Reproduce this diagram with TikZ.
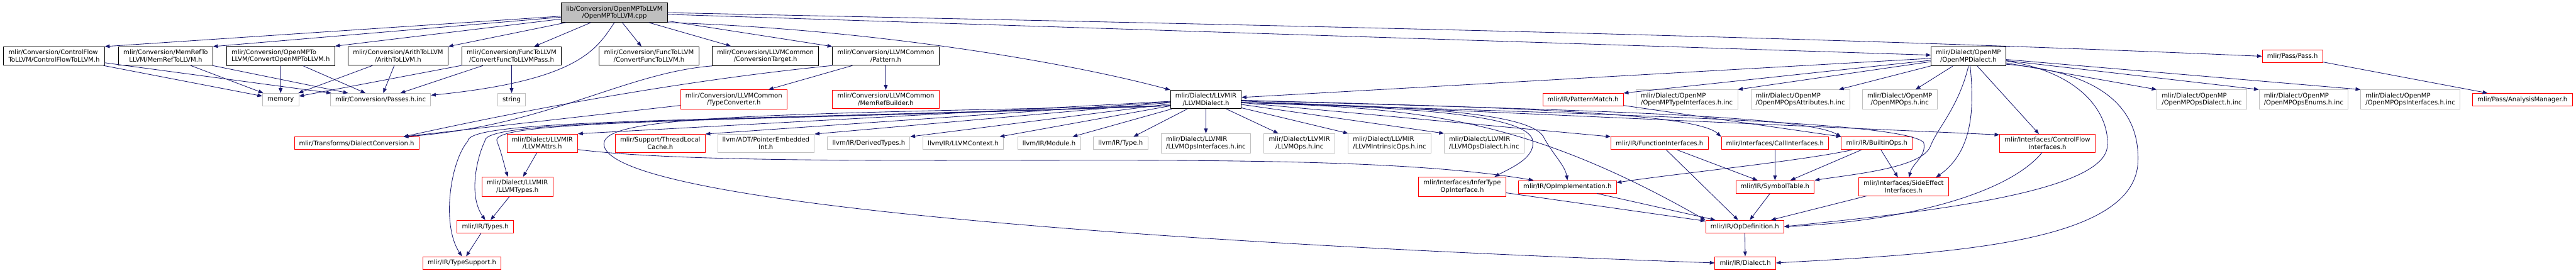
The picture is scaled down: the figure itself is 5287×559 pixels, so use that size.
\documentclass[tikz,border=0pt]{standalone}
\usepackage{fontspec}
\setmainfont{DejaVu Sans}
\usetikzlibrary{arrows.meta}
\definecolor{edgeblue}{RGB}{25,25,112}
\definecolor{grey75}{RGB}{191,191,191}
\begin{document}
\begin{tikzpicture}[x=1bp, y=-1bp,
	hdr/.style={draw=black, line width=1bp, fill=white, align=center, inner xsep=10bp, inner ysep=6bp, minimum height=26bp, font=\fontsize{13bp}{15bp}\selectfont},
	redhdr/.style={hdr, draw=red},
	syshdr/.style={hdr, draw=grey75},
	roothdr/.style={hdr, fill=grey75},
	leftlbl/.style={align=left},
	dep/.style={-{Triangle[length=10bp, width=7.5bp]}, draw=edgeblue, line width=1.1bp}]
	\useasboundingbox (0,0) rectangle (5287,559);

	\node[roothdr] (root) at (1261,26) {lib/Conversion/OpenMPToLLVM\\/OpenMPToLLVM.cpp};

	\node[hdr, leftlbl] (cf) at (111,115) {mlir/Conversion/ControlFlow\\ToLLVM/ControlFlowToLLVM.h};
	\node[hdr] (memref) at (340,115) {mlir/Conversion/MemRefTo\\LLVM/MemRefToLLVM.h};
	\node[hdr, leftlbl] (omptollvm) at (576,115) {mlir/Conversion/OpenMPTo\\LLVM/ConvertOpenMPToLLVM.h};
	\node[hdr] (arith) at (817,115) {mlir/Conversion/ArithToLLVM\\/ArithToLLVM.h};
	\node[hdr] (funcpass) at (1050,115) {mlir/Conversion/FuncToLLVM\\/ConvertFuncToLLVMPass.h};
	\node[hdr] (func) at (1332,115) {mlir/Conversion/FuncToLLVM\\/ConvertFuncToLLVM.h};
	\node[hdr] (convtarget) at (1571,115) {mlir/Conversion/LLVMCommon\\/ConversionTarget.h};
	\node[hdr] (pattern) at (1818,115) {mlir/Conversion/LLVMCommon\\/Pattern.h};
	\node[hdr] (ompdialect) at (4040,115.5) {mlir/Dialect/OpenMP\\/OpenMPDialect.h};
	\node[redhdr] (pass) at (4705,115.5) {mlir/Pass/Pass.h};

	\node[syshdr] (memory) at (576,204.5) {memory};
	\node[syshdr] (passesinc) at (781,204.5) {mlir/Conversion/Passes.h.inc};
	\node[syshdr] (string) at (1050,204.5) {string};
	\node[redhdr] (typeconv) at (1506,204) {mlir/Conversion/LLVMCommon\\/TypeConverter.h};
	\node[redhdr] (memrefbuilder) at (1818,204) {mlir/Conversion/LLVMCommon\\/MemRefBuilder.h};
	\node[hdr] (llvmdialect) at (2475,204) {mlir/Dialect/LLVMIR\\/LLVMDialect.h};
	\node[redhdr] (patternmatch) at (3249,204.5) {mlir/IR/PatternMatch.h};
	\node[syshdr, leftlbl] (omptypeif) at (3462,204) {mlir/Dialect/OpenMP\\/OpenMPTypeInterfaces.h.inc};
	\node[syshdr, leftlbl] (ompattrs) at (3695,204) {mlir/Dialect/OpenMP\\/OpenMPOpsAttributes.h.inc};
	\node[syshdr] (ompopsinc) at (3899,204) {mlir/Dialect/OpenMP\\/OpenMPOps.h.inc};
	\node[syshdr, leftlbl] (ompopsdialect) at (4519,204) {mlir/Dialect/OpenMP\\/OpenMPOpsDialect.h.inc};
	\node[syshdr, leftlbl] (ompenums) at (4728,204) {mlir/Dialect/OpenMP\\/OpenMPOpsEnums.h.inc};
	\node[syshdr, leftlbl] (ompinterfaces) at (4947,204) {mlir/Dialect/OpenMP\\/OpenMPOpsInterfaces.h.inc};
	\node[redhdr] (analysis) at (5177,204.5) {mlir/Pass/AnalysisManager.h};

	\node[redhdr] (dialectconv) at (732,294) {mlir/Transforms/DialectConversion.h};
	\node[redhdr] (llvmattrs) at (1113,294) {mlir/Dialect/LLVMIR\\/LLVMAttrs.h};
	\node[redhdr] (threadlocal) at (1355,294) {mlir/Support/ThreadLocal\\Cache.h};
	\node[syshdr] (ptrint) at (1572,294) {llvm/ADT/PointerEmbedded\\Int.h};
	\node[syshdr] (derived) at (1783,294) {llvm/IR/DerivedTypes.h};
	\node[syshdr] (llvmcontext) at (1977,294) {llvm/IR/LLVMContext.h};
	\node[syshdr] (module) at (2153,294) {llvm/IR/Module.h};
	\node[syshdr] (type) at (2300,294) {llvm/IR/Type.h};
	\node[syshdr, leftlbl] (llvmopsif) at (2475,294) {mlir/Dialect/LLVMIR\\/LLVMOpsInterfaces.h.inc};
	\node[syshdr] (llvmopsinc) at (2667,294) {mlir/Dialect/LLVMIR\\/LLVMOps.h.inc};
	\node[syshdr, leftlbl] (intrinsic) at (2852,294) {mlir/Dialect/LLVMIR\\/LLVMIntrinsicOps.h.inc};
	\node[syshdr, leftlbl] (llvmopsdialect) at (3046,294) {mlir/Dialect/LLVMIR\\/LLVMOpsDialect.h.inc};
	\node[redhdr] (funcif) at (3406,294) {mlir/IR/FunctionInterfaces.h};
	\node[redhdr] (callif) at (3643,294) {mlir/Interfaces/CallInterfaces.h};
	\node[redhdr] (builtinops) at (3852,294) {mlir/IR/BuiltinOps.h};
	\node[redhdr] (cfif) at (4202,294) {mlir/Interfaces/ControlFlow\\Interfaces.h};

	\node[redhdr] (llvmtypes) at (1062,383) {mlir/Dialect/LLVMIR\\/LLVMTypes.h};
	\node[redhdr] (infertype) at (3001,383) {mlir/Interfaces/InferType\\OpInterface.h};
	\node[redhdr] (opimpl) at (3217,383.5) {mlir/IR/OpImplementation.h};
	\node[redhdr] (symboltable) at (3643,383.5) {mlir/IR/SymbolTable.h};
	\node[redhdr] (sideeffect) at (3907,383) {mlir/Interfaces/SideEffect\\Interfaces.h};

	\node[redhdr] (types) at (996,465) {mlir/IR/Types.h};
	\node[redhdr] (opdef) at (3581,465) {mlir/IR/OpDefinition.h};

	\node[redhdr] (typesupport) at (948,539.5) {mlir/IR/TypeSupport.h};
	\node[redhdr] (dialect) at (3582,539.5) {mlir/IR/Dialect.h};

	\draw[dep] (root) -- (cf.north east);
	\draw[dep] (root) -- (memref.north east);
	\draw[dep] (root) -- (omptollvm.north east);
	\draw[dep] (root) -- (arith.north east);
	\draw[dep] (root) -- (funcpass);
	\draw[dep] (root) -- (func);
	\draw[dep] (root) -- (convtarget);
	\draw[dep] (root) -- (pattern.north west);
	\draw[dep] (root.south) .. controls (1225,100) and (1190,165) .. (passesinc.5);
	\draw[dep] (root.south east) .. controls (1800,60) and (2200,130) .. (llvmdialect.north west);
	\draw[dep] (root) -- (ompdialect);
	\draw[dep] (root.east) .. controls (2400,48) and (3600,70) .. (pass.west);

	\draw[dep] (cf) -- (memory);
	\draw[dep] (cf) -- (passesinc);
	\draw[dep] (memref) -- (memory);
	\draw[dep] (memref) -- (passesinc);
	\draw[dep] (omptollvm) -- (memory);
	\draw[dep] (omptollvm) -- (passesinc);
	\draw[dep] (arith) -- (memory);
	\draw[dep] (arith) -- (passesinc);
	\draw[dep] (funcpass) -- (memory);
	\draw[dep] (funcpass) -- (passesinc);
	\draw[dep] (funcpass) -- (string);

	\draw[dep] (convtarget.south west) .. controls (1280,150) and (1120,260) .. (dialectconv.8);
	\draw[dep] (pattern.south west) .. controls (1400,165) and (1080,225) .. (dialectconv.8);
	\draw[dep] (pattern) -- (typeconv);
	\draw[dep] (pattern) -- (memrefbuilder);
	\draw[dep] (typeconv) -- (dialectconv.8);

	\draw[dep] (llvmdialect) -- (llvmattrs.north east);
	\draw[dep] (llvmdialect) -- (threadlocal.north east);
	\draw[dep] (llvmdialect) -- (ptrint.north east);
	\draw[dep] (llvmdialect) -- (derived.north east);
	\draw[dep] (llvmdialect) -- (llvmcontext);
	\draw[dep] (llvmdialect) -- (module);
	\draw[dep] (llvmdialect) -- (type);
	\draw[dep] (llvmdialect) -- (llvmopsif);
	\draw[dep] (llvmdialect) -- (llvmopsinc);
	\draw[dep] (llvmdialect) -- (intrinsic);
	\draw[dep] (llvmdialect) -- (llvmopsdialect.north west);
	\draw[dep] (llvmdialect) -- (funcif.north west);
	\draw[dep] (llvmdialect) .. controls (3100,220) and (3480,232) .. (callif.north west);
	\draw[dep] (llvmdialect) .. controls (3200,225) and (3700,235) .. (builtinops.north west);
	\draw[dep] (llvmdialect) -- (cfif.170);
	\draw[dep] (llvmdialect.-5) .. controls (2900,220) and (3140,235) .. (3146,290) .. controls (3150,325) and (3100,345) .. (infertype.17);
	\draw[dep] (llvmdialect.-5) .. controls (2900,218) and (3150,230) .. (3170,285) .. controls (3190,320) and (3212,340) .. (opimpl.north);
	\draw[dep] (llvmdialect.-5) .. controls (2900,222) and (3120,235) .. (opdef.north west);
	\draw[dep] (llvmdialect.-5) .. controls (3300,235) and (3900,248) .. (3948,292) .. controls (3955,320) and (3925,335) .. (sideeffect.60);
	\draw[dep] (llvmdialect.190) .. controls (1500,250) and (1000,245) .. (1020,290) .. controls (1030,315) and (1035,340) .. (llvmtypes.134);
	\draw[dep] (llvmdialect.190) .. controls (1450,250) and (990,245) .. (995,290) .. controls (980,320) and (960,400) .. (types.north);
	\draw[dep] (llvmdialect.190) .. controls (1400,250) and (960,245) .. (960,290) .. controls (925,330) and (905,460) .. (typesupport.north);
	\draw[dep] (llvmdialect.190) .. controls (1500,235) and (1225,240) .. (1240,300) .. controls (1270,420) and (2400,500) .. (dialect.west);

	\draw[dep] (ompdialect) -- (llvmdialect);
	\draw[dep] (ompdialect) -- (patternmatch.north east);
	\draw[dep] (ompdialect) -- (omptypeif.north east);
	\draw[dep] (ompdialect) -- (ompattrs);
	\draw[dep] (ompdialect) -- (ompopsinc);
	\draw[dep] (ompdialect) -- (ompopsdialect.north west);
	\draw[dep] (ompdialect) -- (ompenums.north west);
	\draw[dep] (ompdialect) -- (ompinterfaces.north west);
	\draw[dep] (ompdialect) -- (cfif);
	\draw[dep] (ompdialect.south) .. controls (4020,220) and (3975,265) .. (3962,300) .. controls (3945,345) and (3800,358) .. (symboltable.north east);
	\draw[dep] (ompdialect.-80) .. controls (4052,220) and (4050,310) .. (sideeffect.16);
	\draw[dep] (ompdialect.-7) .. controls (4280,150) and (4330,240) .. (4325,300) .. controls (4320,400) and (3900,440) .. (opdef.east);
	\draw[dep] (ompdialect.-12) .. controls (4350,150) and (4390,250) .. (4388,330) .. controls (4385,500) and (4000,520) .. (dialect.east);
	\draw[dep] (pass) -- (analysis);

	\draw[dep] (patternmatch) -- (builtinops.north west);
	\draw[dep] (llvmattrs) -- (llvmtypes);
	\draw[dep] (llvmattrs.-10) .. controls (1450,340) and (2100,325) .. (2500,330) .. controls (2800,333) and (3000,345) .. (opimpl.169);
	\draw[dep] (llvmtypes) -- (types);
	\draw[dep] (types) -- (typesupport);
	\draw[dep] (funcif) -- (symboltable);
	\draw[dep] (funcif) -- (opdef);
	\draw[dep] (callif) -- (symboltable);
	\draw[dep] (builtinops) -- (symboltable);
	\draw[dep] (builtinops) -- (sideeffect);
	\draw[dep] (builtinops.195) .. controls (3700,330) and (3450,355) .. (opimpl.5);
	\draw[dep] (cfif.240) .. controls (4120,400) and (3900,455) .. (opdef.east);
	\draw[dep] (infertype) -- (opdef);
	\draw[dep] (opimpl) -- (opdef);
	\draw[dep] (symboltable) -- (opdef);
	\draw[dep] (sideeffect) -- (opdef);
	\draw[dep] (opdef) -- (dialect);
\end{tikzpicture}
\end{document}
